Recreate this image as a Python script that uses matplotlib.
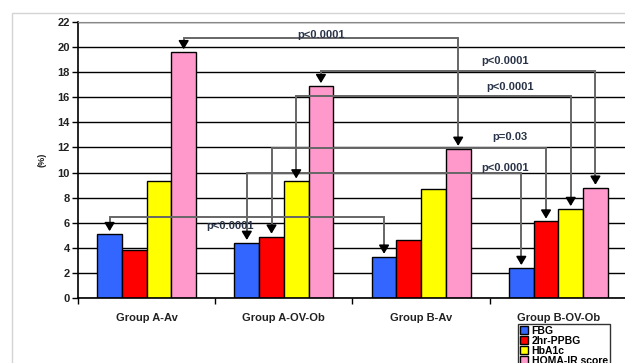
#!/usr/bin/env python3
"""
Grouped bar chart of FBG / 2hr-PPBG / HbA1c / HOMA-IR by group, with p-value brackets
"""

import numpy as np
import matplotlib.pyplot as plt
from matplotlib.patches import Rectangle

plt.rcParams['font.family'] = ['Liberation Sans', 'DejaVu Sans']

# data
groups = ['Group A-Av', 'Group A-OV-Ob', 'Group B-Av', 'Group B-OV-Ob']
series = ['FBG', '2hr-PPBG', 'HbA1c', 'HOMA-IR score']
colors = ['#3366ff', '#ff0000', '#ffff00', '#ff99cc']
fbg = [5.1, 4.4, 3.3, 2.4]
ppbg = [3.8, 4.9, 4.6, 6.1]
hba1c = [9.3, 9.3, 8.7, 7.1]
homa = [19.6, 16.9, 11.9, 8.8]
values = [fbg, ppbg, hba1c, homa]

# brackets: (group from, series from, group to, series to, level, label, label x, label y)
brackets = [
    (0, 3, 2, 3, 20.75, 'p<0.0001', 1.27, 21.0),
    (1, 3, 3, 3, 18.1, 'p<0.0001', 2.61, 18.9),
    (1, 2, 3, 2, 16.1, 'p<0.0001', 2.65, 16.8),
    (1, 1, 3, 1, 11.95, 'p=0.03', 2.65, 12.8),
    (1, 0, 3, 0, 9.95, 'p<0.0001', 2.61, 10.4),
    (0, 0, 2, 0, 6.45, 'p<0.0001', 0.61, 5.7),
]

W, H = 625, 363
fig = plt.figure(figsize=(W / 100, H / 100), dpi=100)
ax = fig.add_axes([78 / W, 1 - 298 / H, 549 / W, 276 / H])

# light outer frame of the original chart object
fig.patches.append(Rectangle((12 / W, -0.1), 1.2, 1 - 13 / H + 0.1, transform=fig.transFigure,
                             fill=False, ec='#d4d4d4', lw=1, zorder=0))

x = np.arange(len(groups))
width = 0.18
offsets = np.array([-1.5, -0.5, 0.5, 1.5]) * width

for i, (name, vals) in enumerate(zip(series, values)):
    ax.bar(x + offsets[i], vals, width, color=colors[i], edgecolor='black',
           linewidth=1, label=name, zorder=2)

ax.set_xlim(-0.5, 3.5)
ax.set_ylim(0, 22)
ax.set_yticks(np.arange(0, 23, 2))
ax.yaxis.grid(True, color='black', linewidth=1)
ax.set_axisbelow(True)
ax.spines['right'].set_visible(False)
ax.spines['top'].set_color('#888888')
ax.spines['left'].set_linewidth(1.2)
ax.spines['bottom'].set_linewidth(1.2)

ax.set_xticks(np.arange(-0.5, 3.6, 1))
ax.set_xticklabels([])
ax.set_xticks(x, minor=True)
ax.set_xticklabels(groups, minor=True, fontsize=8, fontweight='bold', color='#222222')
ax.tick_params(axis='x', which='minor', length=0, pad=11)
ax.tick_params(axis='x', which='major', length=4, width=1, direction='out')
ax.tick_params(axis='y', length=4, width=1, pad=2, labelsize=8, labelcolor='#222222')
for t in ax.get_yticklabels():
    t.set_fontweight('bold')

fig.text(42 / W, 1 - 160 / H, '(%)', rotation=90, fontsize=6.5, fontweight='bold',
         ha='center', va='center', color='#222222')

# p-value brackets: gray lines, black arrow heads
line_c = '#666666'
for g1, s1, g2, s2, level, label, tx, ty in brackets:
    x1 = x[g1] + offsets[s1]
    x2 = x[g2] + offsets[s2]
    top1 = values[s1][g1]
    top2 = values[s2][g2]
    ax.plot([x1, x1, x2, x2], [top1 + 0.5, level, level, top2 + 0.5], color=line_c,
            lw=1.4, zorder=4, solid_joinstyle='miter')
    for xx, top in [(x1, top1), (x2, top2)]:
        ax.annotate('', xy=(xx, top), xytext=(0, 8), textcoords='offset points',
                    arrowprops=dict(arrowstyle='-|>,head_length=0.5,head_width=0.3',
                                    color='black', lw=1.2,
                                    mutation_scale=10, shrinkA=0, shrinkB=2),
                    zorder=5)
    ax.text(tx, ty, label, ha='center', va='center', fontsize=8, fontweight='bold',
            color='#2a3448', zorder=5)

leg = fig.legend(loc='upper left', bbox_to_anchor=(518 / W, 1 - 324 / H),
                 fontsize=7.5, frameon=True, fancybox=False, edgecolor='black',
                 borderpad=0.2, labelspacing=0.0, handlelength=0.8, handleheight=0.8,
                 handletextpad=0.3, borderaxespad=0)
leg.get_frame().set_linewidth(1)
for t in leg.get_texts():
    t.set_fontweight('bold')

fig.savefig('out.png', dpi=100)
